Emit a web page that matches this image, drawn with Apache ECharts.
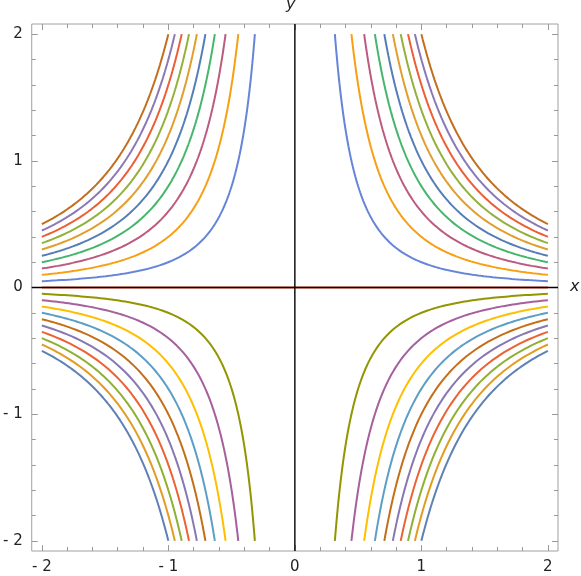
<!DOCTYPE html>
<html>
<head>
<meta charset="utf-8">
<script src="https://cdn.jsdelivr.net/npm/echarts@6/dist/echarts.min.js"></script>
<style>
  html, body { margin: 0; padding: 0; background: #fff; }
  #chart { width: 581px; height: 576px; }
</style>
</head>
<body>
<div id="chart"></div>
<script>
var coeffs = [-2, -1.8, -1.6, -1.4, -1.2, -1, -0.8, -0.6, -0.4, -0.2, 0,
              0.2, 0.4, 0.6, 0.8, 1, 1.2, 1.4, 1.6, 1.8, 2];
var colors = ['#5E81B5', '#E19C24', '#8FB032', '#EB6235', '#8778B3', '#C56E1A', '#5D9EC7',
              '#FFBF00', '#A5609D', '#929600', '#E95536', '#6685D9', '#F89F13', '#BC5B80',
              '#47B66D', '#557EB8', '#E29E2C', '#93B03A', '#EC5E36', '#8A79B6', '#C26E1E'];
var majorTicks = [-2, -1, 0, 1, 2];
var minorTicks = [-1.8, -1.6, -1.4, -1.2, -0.8, -0.6, -0.4, -0.2,
                  0.2, 0.4, 0.6, 0.8, 1.2, 1.4, 1.6, 1.8];
var xRange = [-2, 2];
var yRange = [-2, 2];

var chart = echarts.init(document.getElementById('chart'));

// sample one branch of k/x^2 between where it leaves the y range and the x edge
function branch(k, side) {
    var x0 = Math.sqrt(Math.abs(k) / yRange[1]);
    var pts = [];
    var n = 120;
    for (var i = 0; i <= n; i++) {
        var x = x0 * Math.pow(xRange[1] / x0, i / n);
        pts.push([side * x, k / (x * x)]);
    }
    if (side < 0) pts.reverse();
    return pts;
}

var series = [];
coeffs.forEach(function (k, i) {
    var data;
    if (k === 0) {
        data = [[xRange[0], 0], [xRange[1], 0]];
    } else {
        data = branch(k, -1).concat(['-'], branch(k, 1));
    }
    series.push({
        type: 'line',
        data: data,
        showSymbol: false,
        connectNulls: false,
        lineStyle: { color: colors[i], width: 2 },
        z: 2
    });
});

// axes through the origin
series.push({
    type: 'line', data: [[-2.08, 0], [2.08, 0]], showSymbol: false,
    lineStyle: { color: '#000', width: 1.4 }, z: 5
});
series.push({
    type: 'line', data: [[0, -2.08], [0, 2.08]], showSymbol: false,
    lineStyle: { color: '#000', width: 1.4 }, z: 5
});

function fmt(v) {
    return v < 0 ? '- ' + (-v) : String(v);
}

function axis(pos, ticks, len, labels) {
    return {
        type: 'value',
        position: pos,
        min: -2.08,
        max: 2.08,
        axisLine: { show: false, onZero: false },
        splitLine: { show: false },
        axisTick: {
            show: true, inside: true, length: len, customValues: ticks,
            lineStyle: { color: '#999', width: 1 }
        },
        axisLabel: labels ? {
            show: true, customValues: majorTicks, formatter: fmt,
            color: '#222', fontSize: 15, fontFamily: 'DejaVu Sans', margin: 9
        } : { show: false }
    };
}

chart.setOption({
    animation: false,
    grid: {
        left: 31, top: 24, width: 527, height: 527,
        show: true, borderColor: '#a0a0a0', borderWidth: 1, backgroundColor: '#fff'
    },
    xAxis: [
        axis('bottom', majorTicks, 6, true),
        axis('bottom', minorTicks, 4, false),
        axis('top', majorTicks, 6, false),
        axis('top', minorTicks, 4, false)
    ],
    yAxis: [
        axis('left', majorTicks, 6, true),
        axis('left', minorTicks, 4, false),
        axis('right', majorTicks, 6, false),
        axis('right', minorTicks, 4, false)
    ],
    graphic: [
        { type: 'text', left: 286, top: -3,
          style: { text: 'y', font: 'italic 16px "DejaVu Sans"', fill: '#222' } },
        { type: 'text', left: 570, top: 279,
          style: { text: 'x', font: 'italic 16px "DejaVu Sans"', fill: '#222' } }
    ],
    series: series
});
</script>
</body>
</html>
